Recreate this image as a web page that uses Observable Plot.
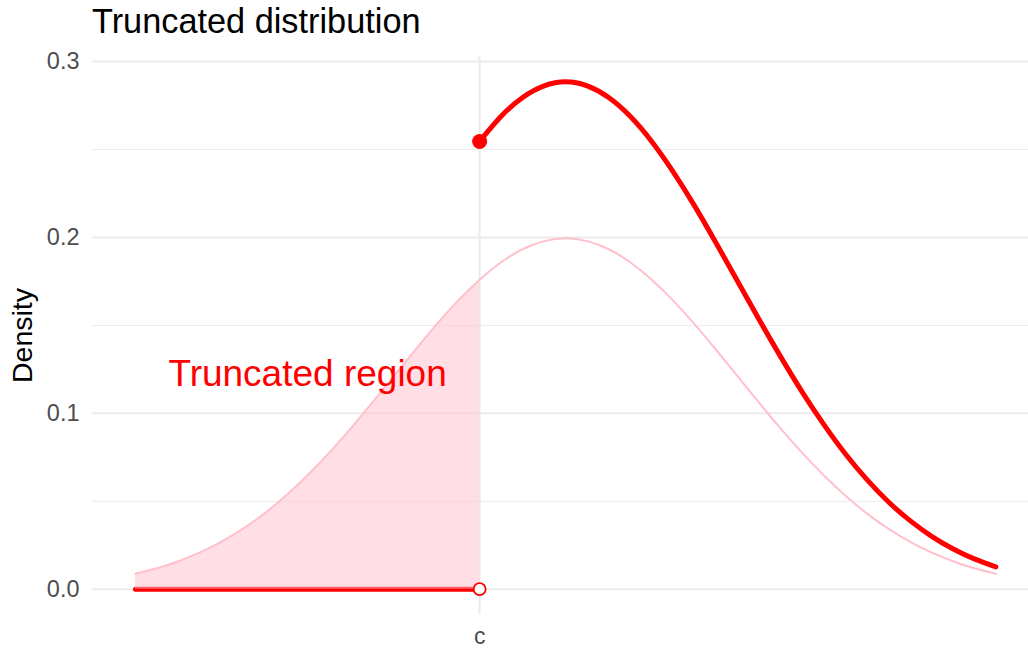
<!DOCTYPE html>
<html><head><meta charset="utf-8">
<script src="https://cdn.jsdelivr.net/npm/d3@7"></script>
<script src="https://cdn.jsdelivr.net/npm/@observablehq/plot@0.6"></script>
<style>
body{margin:0;background:#fff;font-family:"Liberation Sans",Arial,sans-serif;}
#wrap{width:1028px;height:649px;position:relative;overflow:hidden;background:#fff}
#title{position:absolute;left:92px;top:4px;font-size:34.3px;line-height:34px;color:#000;white-space:nowrap}
#chart{position:absolute;left:0;top:40px}
</style></head><body>
<div id="wrap"><div id="title">Truncated distribution</div><div id="chart"></div></div>
<script>
// Values
const xValues = [-5, -4.75, -4.5, -4.25, -4, -3.75, -3.5, -3.25, -3, -2.75, -2.5, -2.25, -2, -1.75, -1.5, -1.25, -1, -0.75, -0.5, -0.25, 0, 0.25, 0.5, 0.75, 1, 1.25, 1.5, 1.75, 2, 2.25, 2.5, 2.75, 3, 3.25, 3.5, 3.75, 4, 4.25, 4.5, 4.75, 5];
const densityValues = [0.0088, 0.0119, 0.0159, 0.0209, 0.0270, 0.0344, 0.0431, 0.0533, 0.0648, 0.0775, 0.0913, 0.1059, 0.1210, 0.1360, 0.1506, 0.1641, 0.1760, 0.1859, 0.1933, 0.1979, 0.1995, 0.1979, 0.1933, 0.1859, 0.1760, 0.1641, 0.1506, 0.1360, 0.1210, 0.1059, 0.0913, 0.0775, 0.0648, 0.0533, 0.0431, 0.0344, 0.0270, 0.0209, 0.0159, 0.0119, 0.0088];
const truncXValues = [-1, -0.75, -0.5, -0.25, 0, 0.25, 0.5, 0.75, 1, 1.25, 1.5, 1.75, 2, 2.25, 2.5, 2.75, 3, 3.25, 3.5, 3.75, 4, 4.25, 4.5, 4.75, 5];
const truncDensityValues = [0.2546, 0.2689, 0.2796, 0.2862, 0.2885, 0.2862, 0.2796, 0.2689, 0.2546, 0.2373, 0.2178, 0.1967, 0.1750, 0.1532, 0.1321, 0.1121, 0.0937, 0.0770, 0.0624, 0.0497, 0.0391, 0.0302, 0.0230, 0.0172, 0.0127];
const cutoff = -1;
const cutoffLabel = "c";
const yTickValues = [0, 0.1, 0.2, 0.3];
const yMinorValues = [0.05, 0.15, 0.25];
const regionLabel = "Truncated region";
const regionLabelX = -3;
const regionLabelY = 0.12;
const topPointValue = 0.2546;
const zeroValue = 0;
const yTitle = "Density";

const full = xValues.map((x, i) => ({x, y: densityValues[i]}));
const region = full.filter(d => d.x <= cutoff);
const zeroLine = region.map(d => ({x: d.x, y: zeroValue}));
const trunc = truncXValues.map((x, i) => ({x, y: truncDensityValues[i]}));

const chart = Plot.plot({
  width: 1028, height: 609,
  marginLeft: 92, marginRight: 0, marginTop: 16, marginBottom: 35,
  x: {domain: [-5.5, 5.38], axis: null},
  y: {domain: [-0.0144, 0.3029], axis: null},
  style: {fontFamily: "'Liberation Sans', Arial, sans-serif", background: "white", overflow: "visible"},
  marks: [
    Plot.gridY(yMinorValues, {stroke: "#EBEBEB", strokeOpacity: 1, strokeWidth: 1}),
    Plot.gridY(yTickValues, {stroke: "#EBEBEB", strokeOpacity: 1, strokeWidth: 2}),
    Plot.gridX([cutoff], {stroke: "#EBEBEB", strokeOpacity: 1, strokeWidth: 2}),
    Plot.axisY(yTickValues, {tickSize: 0, tickPadding: 13, fontSize: 23.5, color: "#4D4D4D", tickFormat: d => d.toFixed(1), label: null}),
    Plot.axisX([cutoff], {tickSize: 0, tickPadding: 13.5, fontSize: 23, color: "#4D4D4D", tickFormat: () => cutoffLabel, label: null}),
    Plot.text([yTitle], {frameAnchor: "left", textAnchor: "middle", lineAnchor: "middle", dx: -70, rotate: -90, fontSize: 28.5, fill: "black"}),
    Plot.line(zeroLine, {x: "x", y: "y", stroke: "red", strokeWidth: 5}),
    Plot.areaY(region, {x: "x", y: "y", fill: "pink", fillOpacity: 0.5, curve: "natural"}),
    Plot.line(full, {x: "x", y: "y", stroke: "pink", strokeWidth: 2, curve: "natural"}),
    Plot.line(trunc, {x: "x", y: "y", stroke: "red", strokeWidth: 5, curve: "natural"}),
    Plot.dot([{x: cutoff, y: topPointValue}], {x: "x", y: "y", r: 7.5, fill: "red", stroke: "none"}),
    Plot.dot([{x: cutoff, y: zeroValue}], {x: "x", y: "y", r: 6, fill: "white", stroke: "red", strokeWidth: 1.8}),
    Plot.text([{x: regionLabelX, y: regionLabelY, t: regionLabel}], {x: "x", y: "y", text: "t", fill: "red", fontSize: 37, dy: -4})
  ]
});
document.getElementById("chart").appendChild(chart);
</script>
</body></html>
